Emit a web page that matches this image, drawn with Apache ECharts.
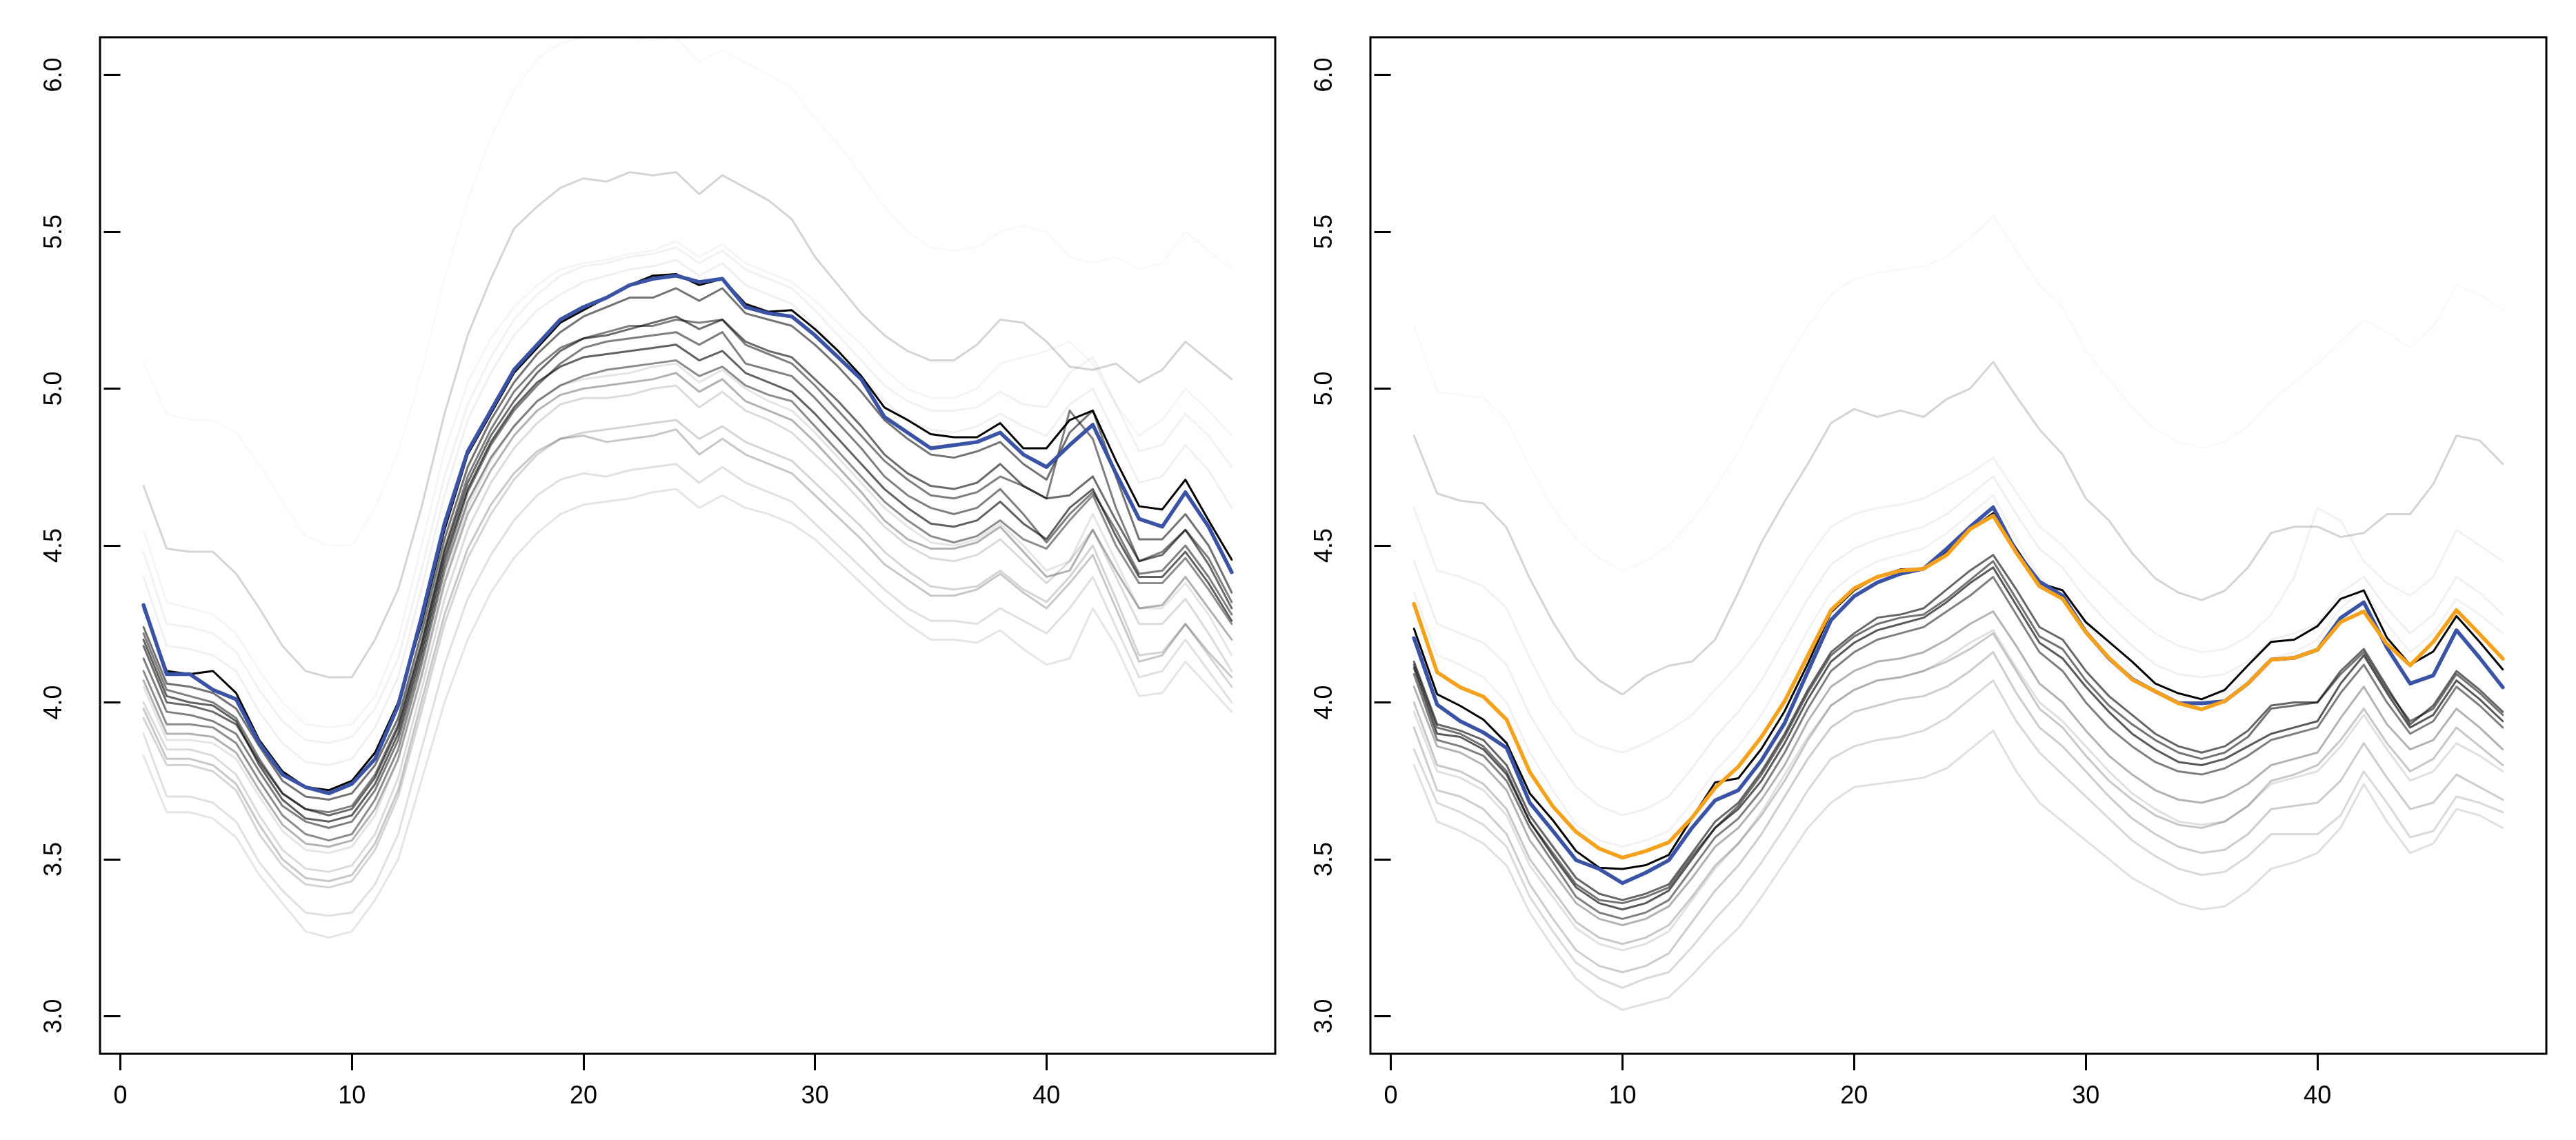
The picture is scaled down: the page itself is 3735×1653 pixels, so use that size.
<!DOCTYPE html>
<html>
<head>
<meta charset="utf-8">
<script src="https://cdn.jsdelivr.net/npm/echarts@6/dist/echarts.min.js"></script>
<style>html,body{margin:0;padding:0;background:#fff}#c{width:3735px;height:1653px}</style>
</head>
<body>
<div id="c"></div>
<script>
// ---------- data ----------
const xs = [1,2,3,4,5,6,7,8,9,10,11,12,13,14,15,16,17,18,19,20,21,22,23,24,25,26,27,28,29,30,31,32,33,34,35,36,37,38,39,40,41,42,43,44,45,46,47,48];
const xTicks = [0,10,20,30,40];
const yTicks = [3.0,3.5,4.0,4.5,5.0,5.5,6.0];

// left panel
const leftBlack = [4.30,4.10,4.09,4.10,4.03,3.88,3.78,3.73,3.72,3.75,3.84,4.00,4.25,4.55,4.79,4.92,5.05,5.13,5.21,5.25,5.29,5.33,5.36,5.365,5.33,5.35,5.27,5.245,5.25,5.19,5.12,5.04,4.94,4.90,4.855,4.845,4.845,4.89,4.81,4.81,4.90,4.93,4.77,4.625,4.615,4.71,4.58,4.455];
const leftBlue = [4.31,4.09,4.09,4.04,4.01,3.87,3.77,3.73,3.71,3.74,3.82,3.99,4.27,4.57,4.80,4.93,5.06,5.14,5.22,5.26,5.29,5.33,5.35,5.36,5.34,5.35,5.26,5.24,5.23,5.17,5.10,5.03,4.91,4.86,4.81,4.82,4.83,4.86,4.79,4.75,4.82,4.885,4.73,4.585,4.56,4.67,4.56,4.415];
const leftG01 = [5.08,4.92,4.90,4.90,4.86,4.76,4.64,4.53,4.50,4.50,4.62,4.80,5.05,5.35,5.60,5.80,5.95,6.05,6.10,6.12,6.12,6.12,6.11,6.12,6.04,6.08,6.04,6.00,5.96,5.86,5.78,5.68,5.58,5.50,5.45,5.44,5.45,5.50,5.52,5.50,5.42,5.40,5.42,5.38,5.40,5.50,5.44,5.38];
const leftG02 = [4.69,4.49,4.48,4.48,4.41,4.30,4.18,4.10,4.08,4.08,4.20,4.36,4.62,4.92,5.17,5.35,5.51,5.58,5.64,5.67,5.66,5.69,5.68,5.69,5.62,5.68,5.64,5.60,5.54,5.42,5.33,5.24,5.17,5.12,5.09,5.09,5.14,5.22,5.21,5.15,5.07,5.06,5.08,5.02,5.06,5.15,5.09,5.03];
const leftU1 = [4.48,4.25,4.24,4.22,4.16,4.04,3.94,3.88,3.87,3.89,3.98,4.14,4.42,4.72,4.95,5.10,5.22,5.30,5.36,5.39,5.40,5.42,5.43,5.45,5.40,5.44,5.38,5.35,5.32,5.25,5.17,5.09,5.01,4.96,4.93,4.93,4.94,4.99,4.95,4.94,5.05,5.10,4.95,4.80,4.82,4.92,4.85,4.75];
const leftU2 = [4.40,4.18,4.17,4.15,4.10,3.97,3.87,3.81,3.80,3.82,3.92,4.08,4.36,4.66,4.90,5.05,5.17,5.25,5.30,5.34,5.36,5.38,5.39,5.41,5.36,5.40,5.33,5.30,5.27,5.20,5.12,5.04,4.96,4.90,4.87,4.86,4.88,4.92,4.88,4.85,4.95,5.00,4.85,4.70,4.72,4.82,4.74,4.62];
const leftU3 = [4.55,4.32,4.30,4.28,4.22,4.10,4.00,3.93,3.92,3.93,4.02,4.20,4.50,4.80,5.02,5.16,5.26,5.33,5.38,5.40,5.41,5.43,5.44,5.47,5.42,5.46,5.40,5.37,5.34,5.28,5.21,5.14,5.06,5.00,4.97,4.97,5.00,5.08,5.10,5.12,5.15,5.08,4.95,4.85,4.90,5.00,4.93,4.85];
const leftD1 = [4.24,4.06,4.05,4.03,3.98,3.86,3.75,3.70,3.69,3.71,3.80,3.95,4.22,4.52,4.75,4.90,5.02,5.11,5.18,5.23,5.26,5.29,5.29,5.32,5.28,5.32,5.24,5.22,5.20,5.14,5.07,4.99,4.90,4.84,4.79,4.78,4.80,4.83,4.76,4.71,4.86,4.93,4.72,4.52,4.52,4.60,4.50,4.35];
const leftD2 = [4.18,4.00,3.99,3.97,3.93,3.81,3.71,3.66,3.64,3.66,3.76,3.92,4.18,4.48,4.70,4.85,4.96,5.05,5.12,5.16,5.17,5.19,5.21,5.23,5.19,5.22,5.15,5.12,5.10,5.03,4.96,4.88,4.79,4.73,4.69,4.68,4.70,4.76,4.69,4.65,4.66,4.72,4.58,4.45,4.47,4.55,4.44,4.30];
const leftD3 = [4.14,3.97,3.96,3.94,3.90,3.78,3.67,3.62,3.60,3.62,3.72,3.88,4.14,4.44,4.67,4.82,4.93,5.01,5.08,5.13,5.15,5.16,5.17,5.18,5.14,5.18,5.08,5.06,5.04,4.97,4.89,4.81,4.72,4.66,4.62,4.60,4.62,4.68,4.60,4.51,4.60,4.67,4.55,4.41,4.42,4.50,4.40,4.28];
const leftD4 = [4.20,4.02,4.00,3.99,3.94,3.80,3.69,3.63,3.62,3.64,3.74,3.90,4.16,4.46,4.68,4.83,4.94,5.02,5.07,5.10,5.11,5.12,5.13,5.14,5.09,5.12,5.05,5.02,4.99,4.92,4.84,4.76,4.68,4.62,4.57,4.56,4.58,4.64,4.57,4.52,4.62,4.68,4.53,4.40,4.40,4.48,4.38,4.26];
const leftD5 = [4.10,3.93,3.93,3.92,3.87,3.75,3.64,3.58,3.56,3.58,3.69,3.85,4.12,4.42,4.64,4.78,4.88,4.96,5.01,5.04,5.06,5.07,5.08,5.09,5.04,5.07,5.01,4.98,4.96,4.88,4.80,4.72,4.64,4.58,4.53,4.51,4.53,4.58,4.52,4.49,4.58,4.66,4.50,4.38,4.38,4.46,4.36,4.25];
const leftD6 = [4.22,4.04,4.02,4.00,3.95,3.82,3.71,3.66,3.65,3.67,3.77,3.93,4.19,4.49,4.72,4.87,4.99,5.07,5.13,5.16,5.18,5.20,5.20,5.22,5.21,5.22,5.14,5.11,5.08,5.01,4.93,4.85,4.77,4.71,4.66,4.65,4.67,4.72,4.69,4.65,4.93,4.84,4.62,4.45,4.48,4.55,4.46,4.32];
const leftM1 = [4.07,3.90,3.90,3.89,3.84,3.72,3.61,3.55,3.54,3.56,3.66,3.82,4.08,4.38,4.60,4.74,4.85,4.93,4.98,5.00,5.01,5.02,5.03,5.05,4.99,5.03,4.96,4.93,4.90,4.83,4.75,4.67,4.58,4.52,4.49,4.49,4.51,4.56,4.48,4.40,4.42,4.55,4.42,4.30,4.31,4.40,4.30,4.20];
const leftM2 = [3.98,3.82,3.82,3.80,3.74,3.61,3.50,3.44,3.43,3.45,3.55,3.72,4.00,4.28,4.49,4.63,4.73,4.80,4.84,4.85,4.83,4.84,4.85,4.87,4.79,4.84,4.79,4.76,4.73,4.66,4.59,4.52,4.44,4.39,4.34,4.34,4.36,4.41,4.35,4.30,4.38,4.47,4.30,4.13,4.15,4.25,4.16,4.08];
const leftL1 = [3.83,3.65,3.65,3.63,3.57,3.45,3.36,3.27,3.25,3.27,3.37,3.50,3.75,4.00,4.20,4.35,4.46,4.54,4.60,4.63,4.64,4.65,4.67,4.68,4.62,4.66,4.62,4.60,4.57,4.52,4.45,4.38,4.31,4.25,4.20,4.20,4.19,4.23,4.17,4.12,4.14,4.30,4.18,4.02,4.03,4.13,4.05,3.97];
const leftL2 = [3.90,3.70,3.70,3.68,3.62,3.49,3.40,3.33,3.32,3.33,3.42,3.58,3.85,4.12,4.33,4.47,4.58,4.66,4.71,4.73,4.72,4.74,4.75,4.76,4.70,4.75,4.70,4.67,4.64,4.57,4.50,4.43,4.36,4.30,4.26,4.26,4.25,4.30,4.26,4.22,4.30,4.40,4.24,4.08,4.10,4.20,4.10,4.00];
const leftL3 = [3.95,3.80,3.80,3.78,3.72,3.58,3.48,3.42,3.41,3.43,3.53,3.70,3.97,4.25,4.46,4.60,4.71,4.79,4.84,4.86,4.87,4.88,4.89,4.90,4.84,4.88,4.83,4.80,4.77,4.70,4.63,4.56,4.48,4.42,4.37,4.36,4.37,4.42,4.36,4.32,4.40,4.50,4.33,4.15,4.16,4.25,4.15,4.05];
const leftL4 = [4.00,3.85,3.85,3.83,3.77,3.64,3.53,3.47,3.46,3.48,3.58,3.76,4.04,4.33,4.55,4.70,4.81,4.89,4.95,4.97,4.97,4.98,5.00,5.01,4.94,4.99,4.93,4.90,4.86,4.79,4.72,4.64,4.56,4.50,4.46,4.45,4.47,4.52,4.45,4.38,4.45,4.55,4.40,4.25,4.25,4.33,4.22,4.10];
const leftL5 = [4.05,3.88,3.88,3.87,3.82,3.70,3.59,3.53,3.52,3.54,3.64,3.82,4.10,4.40,4.62,4.77,4.88,4.96,5.01,5.03,5.04,5.05,5.07,5.08,5.02,5.06,5.00,4.96,4.93,4.86,4.78,4.70,4.62,4.56,4.51,4.50,4.52,4.57,4.50,4.42,4.45,4.60,4.45,4.30,4.30,4.38,4.28,4.15];

// right panel
const rightBlack = [4.235,4.026,3.989,3.945,3.87,3.71,3.624,3.526,3.473,3.469,3.481,3.514,3.631,3.745,3.758,3.852,3.972,4.123,4.287,4.357,4.40,4.424,4.425,4.483,4.55,4.603,4.49,4.38,4.357,4.256,4.193,4.13,4.06,4.029,4.01,4.04,4.118,4.193,4.20,4.243,4.33,4.357,4.206,4.12,4.162,4.275,4.193,4.105];
const rightBlue = [4.205,3.993,3.94,3.904,3.855,3.68,3.59,3.497,3.469,3.424,3.457,3.497,3.60,3.688,3.72,3.815,3.934,4.098,4.262,4.338,4.382,4.41,4.426,4.49,4.559,4.622,4.48,4.385,4.34,4.225,4.14,4.075,4.035,3.998,3.997,4.004,4.06,4.136,4.142,4.168,4.269,4.319,4.174,4.06,4.086,4.23,4.142,4.048];
const rightOrange = [4.314,4.096,4.048,4.018,3.945,3.778,3.668,3.587,3.534,3.505,3.526,3.554,3.632,3.728,3.795,3.89,4.004,4.149,4.294,4.363,4.40,4.42,4.426,4.47,4.552,4.595,4.477,4.37,4.33,4.224,4.142,4.073,4.035,3.997,3.978,4.004,4.06,4.136,4.142,4.168,4.256,4.29,4.186,4.118,4.193,4.294,4.218,4.139];
const rightF = [5.20,4.99,4.98,4.97,4.90,4.75,4.62,4.52,4.46,4.42,4.45,4.50,4.58,4.68,4.80,4.94,5.08,5.20,5.30,5.35,5.37,5.38,5.39,5.42,5.48,5.55,5.44,5.33,5.26,5.12,5.03,4.94,4.87,4.83,4.81,4.83,4.88,4.96,5.02,5.08,5.15,5.22,5.18,5.13,5.20,5.33,5.30,5.25];
const rightG = [4.85,4.666,4.643,4.634,4.557,4.395,4.256,4.14,4.07,4.025,4.083,4.117,4.13,4.20,4.35,4.51,4.64,4.76,4.89,4.935,4.91,4.93,4.91,4.967,5.00,5.085,4.975,4.87,4.79,4.65,4.58,4.476,4.395,4.35,4.326,4.356,4.43,4.54,4.56,4.56,4.527,4.54,4.60,4.60,4.696,4.85,4.835,4.76];
const rightU1 = [4.62,4.42,4.40,4.37,4.30,4.14,4.00,3.90,3.86,3.84,3.87,3.91,3.96,4.04,4.12,4.22,4.34,4.46,4.56,4.60,4.62,4.63,4.65,4.69,4.73,4.78,4.67,4.56,4.50,4.42,4.35,4.28,4.22,4.18,4.16,4.17,4.21,4.28,4.40,4.62,4.58,4.45,4.38,4.34,4.40,4.55,4.50,4.45];
const rightU2 = [4.45,4.25,4.22,4.19,4.12,3.96,3.84,3.73,3.67,3.64,3.66,3.70,3.79,3.89,3.97,4.07,4.20,4.33,4.44,4.49,4.52,4.54,4.56,4.60,4.66,4.72,4.60,4.49,4.43,4.33,4.25,4.18,4.12,4.09,4.08,4.09,4.13,4.20,4.22,4.25,4.35,4.40,4.30,4.22,4.28,4.40,4.35,4.28];
const rightU3 = [4.35,4.15,4.12,4.08,4.00,3.84,3.72,3.61,3.56,3.54,3.56,3.59,3.68,3.78,3.86,3.96,4.09,4.23,4.35,4.41,4.45,4.47,4.49,4.54,4.60,4.66,4.52,4.40,4.34,4.25,4.17,4.10,4.05,4.02,4.01,4.03,4.07,4.14,4.16,4.20,4.30,4.36,4.25,4.16,4.22,4.33,4.28,4.22];
const rightD1 = [4.13,3.93,3.91,3.88,3.80,3.64,3.54,3.44,3.39,3.37,3.39,3.42,3.52,3.62,3.68,3.78,3.90,4.04,4.16,4.22,4.27,4.28,4.30,4.36,4.42,4.47,4.36,4.24,4.20,4.10,4.02,3.96,3.90,3.86,3.84,3.86,3.91,3.99,4.00,4.00,4.10,4.17,4.05,3.93,3.99,4.10,4.04,3.97];
const rightD2 = [4.11,3.90,3.89,3.85,3.77,3.62,3.51,3.41,3.36,3.34,3.36,3.40,3.50,3.60,3.66,3.75,3.87,4.01,4.13,4.19,4.23,4.25,4.27,4.32,4.38,4.43,4.31,4.19,4.14,4.05,3.97,3.90,3.85,3.81,3.80,3.82,3.86,3.90,3.92,3.94,4.06,4.15,4.03,3.92,3.96,4.07,4.01,3.94];
const rightD3 = [4.09,3.88,3.86,3.83,3.75,3.60,3.49,3.38,3.33,3.31,3.33,3.37,3.47,3.57,3.63,3.72,3.84,3.98,4.10,4.16,4.20,4.22,4.24,4.29,4.34,4.40,4.28,4.16,4.10,4.00,3.92,3.86,3.81,3.78,3.77,3.79,3.83,3.88,3.90,3.92,4.03,4.12,4.00,3.90,3.94,4.05,3.99,3.92];
const rightD4 = [4.12,3.92,3.90,3.86,3.78,3.62,3.52,3.42,3.37,3.36,3.38,3.41,3.51,3.60,3.67,3.77,3.89,4.03,4.15,4.21,4.25,4.27,4.28,4.33,4.39,4.45,4.33,4.21,4.17,4.07,3.99,3.93,3.88,3.84,3.82,3.84,3.89,3.98,3.99,4.00,4.09,4.16,4.04,3.94,3.98,4.09,4.03,3.96];
const rightM1 = [4.05,3.86,3.84,3.80,3.72,3.56,3.46,3.36,3.31,3.29,3.31,3.35,3.44,3.54,3.60,3.69,3.80,3.94,4.05,4.10,4.13,4.14,4.16,4.20,4.25,4.29,4.18,4.06,4.00,3.91,3.83,3.77,3.72,3.69,3.68,3.70,3.74,3.80,3.82,3.84,3.95,4.05,3.93,3.85,3.88,3.98,3.92,3.85];
const rightM2 = [4.00,3.80,3.78,3.74,3.66,3.50,3.40,3.30,3.25,3.23,3.25,3.29,3.38,3.48,3.55,3.64,3.75,3.88,3.99,4.04,4.07,4.08,4.10,4.13,4.17,4.22,4.10,3.98,3.92,3.83,3.75,3.69,3.64,3.61,3.60,3.62,3.67,3.75,3.77,3.80,3.88,3.98,3.87,3.78,3.82,3.92,3.86,3.80];
const rightL1 = [3.80,3.62,3.59,3.55,3.48,3.33,3.22,3.12,3.06,3.02,3.04,3.06,3.13,3.21,3.28,3.38,3.49,3.60,3.68,3.73,3.74,3.75,3.76,3.79,3.85,3.91,3.78,3.68,3.62,3.56,3.50,3.44,3.40,3.36,3.34,3.35,3.40,3.47,3.49,3.52,3.60,3.74,3.62,3.52,3.55,3.66,3.64,3.60];
const rightL2 = [3.85,3.68,3.65,3.61,3.54,3.38,3.27,3.17,3.12,3.09,3.12,3.14,3.22,3.31,3.39,3.49,3.60,3.72,3.82,3.86,3.88,3.89,3.91,3.95,4.01,4.07,3.94,3.84,3.77,3.70,3.63,3.56,3.51,3.47,3.45,3.46,3.51,3.58,3.58,3.58,3.64,3.78,3.68,3.57,3.59,3.70,3.68,3.65];
const rightL3 = [3.92,3.72,3.70,3.66,3.58,3.42,3.31,3.21,3.16,3.14,3.16,3.20,3.30,3.40,3.48,3.58,3.70,3.82,3.92,3.97,3.99,4.01,4.02,4.05,4.10,4.16,4.03,3.92,3.86,3.78,3.70,3.63,3.58,3.54,3.52,3.53,3.58,3.66,3.67,3.68,3.75,3.87,3.76,3.66,3.68,3.77,3.73,3.69];
const rightL4 = [3.97,3.78,3.76,3.72,3.64,3.48,3.38,3.28,3.23,3.21,3.23,3.27,3.37,3.47,3.55,3.65,3.77,3.89,3.99,4.04,4.07,4.08,4.10,4.14,4.19,4.23,4.11,4.00,3.94,3.86,3.78,3.71,3.66,3.62,3.61,3.62,3.67,3.74,3.76,3.78,3.86,3.96,3.85,3.75,3.78,3.87,3.83,3.78];

// ---------- styling (kept apart from data) ----------
const leftGreys = [
  [leftG01,0.025],[leftU3,0.04],[leftU1,0.05],[leftU2,0.06],[leftG02,0.17],
  [leftL1,0.10],[leftL2,0.12],[leftL3,0.17],[leftL4,0.14],[leftL5,0.10],
  [leftM2,0.22],[leftM1,0.30],
  [leftD5,0.45],[leftD3,0.50],[leftD6,0.50],[leftD4,0.62],[leftD2,0.58],[leftD1,0.55]
];
const rightGreys = [
  [rightF,0.025],[rightU1,0.05],[rightU2,0.06],[rightU3,0.05],[rightG,0.17],
  [rightL1,0.12],[rightL2,0.15],[rightL3,0.20],[rightL4,0.12],
  [rightM2,0.22],[rightM1,0.30],
  [rightD3,0.50],[rightD4,0.55],[rightD1,0.60],[rightD2,0.65]
];
const BLUE = '#3a53a4', ORANGE = '#f5a11c';
const FONT = '"Liberation Sans", Arial, Helvetica, sans-serif';

function pts(arr){ return xs.map((x,k)=>[x,arr[k]]); }
function line(arr, g, color, width, z){
  return {type:'line', xAxisIndex:g, yAxisIndex:g, data:pts(arr), showSymbol:false, symbol:'none',
          silent:true, animation:false, z:z, lineStyle:{color:color, width:width, cap:'round', join:'round'}};
}
const series = [];
leftGreys.forEach(([a,al])=>series.push(line(a,0,'rgba(0,0,0,'+al+')',3,2)));
series.push(line(leftBlack,0,'#000',3,3));
series.push(line(leftBlue,0,BLUE,5.5,4));
rightGreys.forEach(([a,al])=>series.push(line(a,1,'rgba(0,0,0,'+al+')',3,2)));
series.push(line(rightBlack,1,'#000',3,3));
series.push(line(rightBlue,1,BLUE,5.5,4));
series.push(line(rightOrange,1,ORANGE,5.5,5));

function xAx(g){ return {type:'value', gridIndex:g, min:-0.88, max:49.88,
  axisLine:{show:false}, splitLine:{show:false},
  axisTick:{show:true, inside:false, length:24, lineStyle:{color:'#000', width:3}, customValues:xTicks},
  axisLabel:{show:true, customValues:xTicks, margin:44, color:'#000', fontSize:36, fontFamily:FONT}}; }
function yAx(g){ return {type:'value', gridIndex:g, min:2.88, max:6.12,
  axisLine:{show:false}, splitLine:{show:false},
  axisTick:{show:true, inside:false, length:24, lineStyle:{color:'#000', width:3}, customValues:yTicks},
  axisLabel:{show:true, customValues:yTicks, rotate:90, margin:48, color:'#000', fontSize:36, fontFamily:FONT,
             formatter:(v)=>Number(v).toFixed(1)}}; }

const chart = echarts.init(document.getElementById('c'), null, {renderer:'canvas', width:3735, height:1653});
chart.setOption({
  backgroundColor:'#fff',
  animation:false,
  grid:[
    {left:145, top:54, width:1704, height:1474, show:true, borderColor:'#000', borderWidth:3, backgroundColor:'transparent', containLabel:false},
    {left:1987, top:54, width:1705, height:1474, show:true, borderColor:'#000', borderWidth:3, backgroundColor:'transparent', containLabel:false}
  ],
  xAxis:[xAx(0), xAx(1)],
  yAxis:[yAx(0), yAx(1)],
  series:series
});
</script>
</body>
</html>
